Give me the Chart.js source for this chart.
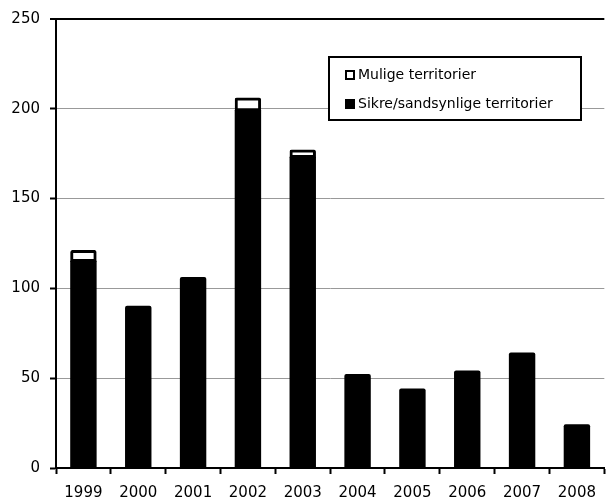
<!DOCTYPE html>
<html>
<head>
<meta charset="utf-8">
<script src="https://cdn.jsdelivr.net/npm/chart.js@4.4.0/dist/chart.umd.min.js"></script>
<style>
  body { margin: 0; background: #fff; }
  #wrap { width: 606px; height: 502px; }
</style>
</head>
<body>
<div id="wrap"><canvas id="territoryChart" width="606" height="502"></canvas></div>
<script>
const years = ['1999', '2000', '2001', '2002', '2003', '2004', '2005', '2006', '2007', '2008'];
const sikre = [115, 90, 106, 199, 173, 52, 44, 54, 64, 24];
const mulige = [6, null, null, 7, 4, null, null, null, null, null];
const yTicks = [0, 50, 100, 150, 200, 250];

const FONT = 'DejaVu Sans, Verdana, sans-serif';

// legend drawn in a box inside the plot, like the original
const boxLegend = {
    id: 'boxLegend',
    afterDraw(chart) {
        const ctx = chart.ctx;
        const items = [chart.data.datasets[1], chart.data.datasets[0]];
        ctx.save();
        ctx.lineWidth = 2;
        ctx.strokeStyle = '#000';
        ctx.fillStyle = '#fff';
        ctx.fillRect(329, 57, 252, 63);
        ctx.strokeRect(329, 57, 252, 63);
        ctx.font = '14px ' + FONT;
        ctx.textBaseline = 'middle';
        items.forEach((ds, i) => {
            const y = 75 + i * 29;
            ctx.fillStyle = '#000';
            ctx.fillRect(345, y - 5, 10, 10);
            if (ds.backgroundColor === '#fff') {
                ctx.fillStyle = '#fff';
                ctx.fillRect(347, y - 3, 6, 6);
            }
            ctx.fillStyle = '#000';
            ctx.fillText(ds.label, 358, y);
        });
        ctx.restore();
    }
};

const ctx = document.getElementById('territoryChart').getContext('2d');
new Chart(ctx, {
    type: 'bar',
    data: {
        labels: years,
        datasets: [{
            label: 'Sikre/sandsynlige territorier',
            data: sikre,
            backgroundColor: '#000',
            borderWidth: 0,
            inflateAmount: 0.6,
            borderRadius: c => mulige[c.dataIndex] ? 0 : { topLeft: 2, topRight: 2 },
            categoryPercentage: 1,
            barPercentage: 0.46
        }, {
            label: 'Mulige territorier',
            data: mulige,
            backgroundColor: '#fff',
            borderColor: '#000',
            borderWidth: 3,
            borderSkipped: false,
            inflateAmount: 0.6,
            borderRadius: { topLeft: 2, topRight: 2 },
            categoryPercentage: 1,
            barPercentage: 0.46
        }]
    },
    options: {
        responsive: false,
        animation: false,
        layout: { padding: { top: 19, right: 0, left: 0, bottom: 0 } },
        plugins: {
            legend: { display: false },
            tooltip: { enabled: false }
        },
        scales: {
            x: {
                stacked: true,
                offset: true,
                afterFit(scale) { scale.height = 34; },
                grid: {
                    offset: true,
                    drawOnChartArea: false,
                    tickLength: 6,
                    tickColor: '#000',
                    tickWidth: 2
                },
                border: { color: '#000', width: 2 },
                ticks: {
                    color: '#000',
                    padding: 10,
                    maxRotation: 0,
                    font: { family: FONT, size: 15 }
                }
            },
            y: {
                stacked: true,
                min: 0,
                max: 250,
                afterFit(scale) { scale.width = 56; },
                afterBuildTicks(scale) {
                    scale.ticks = yTicks.map(v => ({ value: v }));
                },
                grid: {
                    color: c => c.tick && c.tick.value === 250 ? '#000' : '#999',
                    lineWidth: c => c.tick && c.tick.value === 250 ? 2 : 1,
                    tickLength: 6,
                    tickColor: '#000',
                    tickWidth: 2
                },
                border: { color: '#000', width: 2 },
                ticks: {
                    color: '#000',
                    padding: 10,
                    font: { family: FONT, size: 15 }
                }
            }
        }
    },
    plugins: [boxLegend]
});
</script>
</body>
</html>
